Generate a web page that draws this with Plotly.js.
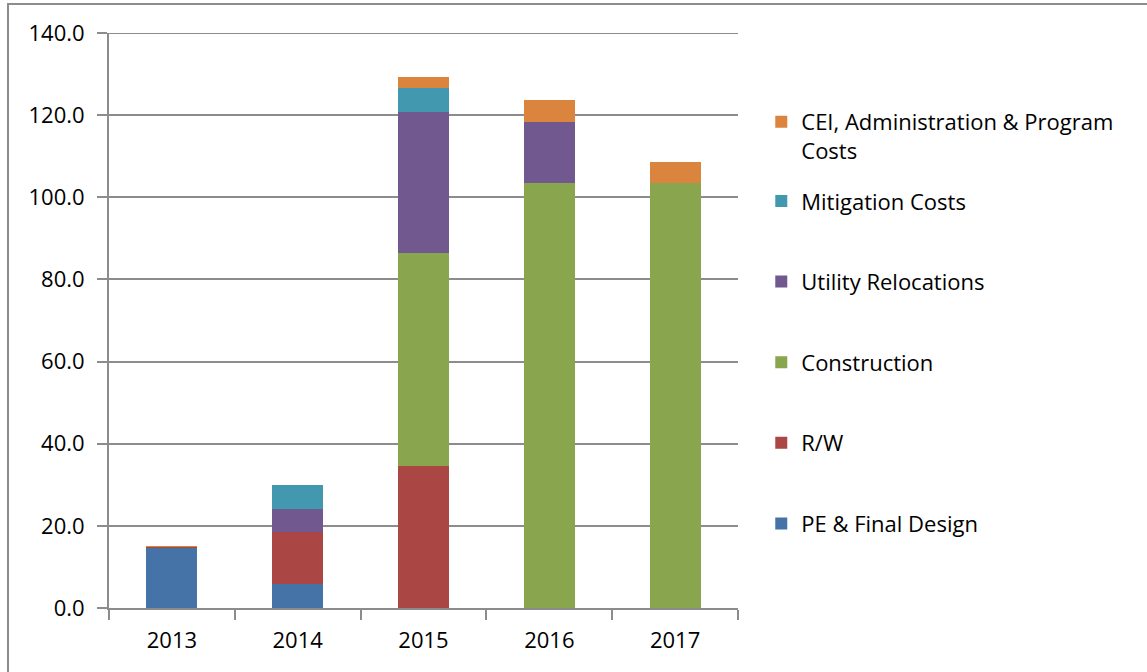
<!DOCTYPE html>
<html>
<head>
<meta charset="utf-8">
<script src="https://cdn.plot.ly/plotly-3.0.1.min.js"></script>
<style>
  html, body { margin: 0; padding: 0; background: #ffffff; overflow: hidden; }
  #frame {
    position: absolute; left: 7px; top: 3px; width: 1160px; height: 690px;
    border: 2px solid #8c8c8c; box-sizing: border-box;
  }
  #chart { position: absolute; left: 0; top: 0; width: 1147px; height: 672px; }
</style>
</head>
<body>
<div id="frame"></div>
<div id="chart"></div>
<script>
// Stacked annual costs per funding category.
const years = ['2013', '2014', '2015', '2016', '2017'];

const peFinalDesign = [14.5, 5.9, 0, 0, 0];
const rightOfWay = [0.4, 12.5, 34.6, 0, 0];
const construction = [0, 0, 51.8, 103.4, 103.4];
const utilityRelocations = [0, 5.7, 34.4, 14.9, 0];
const mitigationCosts = [0, 5.9, 5.9, 0, 0];
const ceiAdminProgram = [0.2, 0, 2.6, 5.4, 5.2];

const yTicks = [0, 20, 40, 60, 80, 100, 120, 140];

const COLORS = {
  pe: '#4572A7',
  rw: '#AA4643',
  construction: '#89A54E',
  utility: '#71588F',
  mitigation: '#4198AF',
  cei: '#DB843D',
  grid: '#8c8c8c',
  text: '#000000',
};

const FONT_FAMILY = 'Open Sans, Liberation Sans, sans-serif';

// rank: smaller sits higher in the legend (Excel lists the top of the stack first)
function barTrace(name, values, color, rank, legend) {
  return {
    type: 'bar',
    name,
    x: years,
    y: values,
    legendgroup: name,
    legendrank: rank,
    legend: legend || 'legend',
    marker: { color, line: { width: 0 } },
    hoverinfo: 'x+y+name',
  };
}

const traces = [
  barTrace('PE & Final Design', peFinalDesign, COLORS.pe, 5),
  barTrace('R/W', rightOfWay, COLORS.rw, 4),
  barTrace('Construction', construction, COLORS.construction, 3),
  barTrace('Utility Relocations', utilityRelocations, COLORS.utility, 2),
  barTrace('Mitigation Costs', mitigationCosts, COLORS.mitigation, 1),
  barTrace('CEI, Administration & Program<br>Costs', ceiAdminProgram, COLORS.cei, 0, 'legend2'),
];

const axisFont = { family: FONT_FAMILY, size: 22, color: COLORS.text };
const legendFont = { family: FONT_FAMILY, size: 22, color: COLORS.text };

const legendBase = {
  x: 1.037,
  xanchor: 'left',
  yanchor: 'top',
  traceorder: 'grouped',
  tracegroupgap: 49,
  font: legendFont,
  itemwidth: 30,
  bgcolor: 'rgba(0,0,0,0)',
};

const layout = {
  width: 1147,
  height: 672,
  paper_bgcolor: 'rgba(0,0,0,0)',
  plot_bgcolor: 'rgba(0,0,0,0)',
  margin: { l: 109, r: 409, t: 33, b: 64 },
  barmode: 'stack',
  bargap: 0.595,
  font: axisFont,
  xaxis: {
    type: 'category',
    showline: true,
    linecolor: COLORS.grid,
    linewidth: 2,
    ticks: 'outside',
    tickson: 'boundaries',
    ticklen: 10,
    tickwidth: 2,
    tickcolor: COLORS.grid,
    tickfont: axisFont,
    ticklabelstandoff: 12,
    showgrid: false,
  },
  yaxis: {
    range: [0, 140],
    tickvals: yTicks,
    ticktext: yTicks.map((v) => v.toFixed(1)),
    showline: true,
    linecolor: COLORS.grid,
    linewidth: 2,
    ticks: 'outside',
    ticklen: 10,
    tickwidth: 2,
    tickcolor: COLORS.grid,
    showgrid: true,
    gridcolor: COLORS.grid,
    gridwidth: 2,
    zeroline: false,
    tickfont: axisFont,
    ticklabelstandoff: 8,
  },
  // gridline at the top of the range, which Plotly leaves out at the edge
  shapes: [
    {
      type: 'line',
      xref: 'paper',
      yref: 'y',
      x0: 0,
      x1: 1,
      y0: 140,
      y1: 140,
      line: { color: COLORS.grid, width: 2 },
    },
  ],
  legend: { ...legendBase, y: 0.744 },
  legend2: { ...legendBase, y: 0.882, valign: 'top' },
  showlegend: true,
};

Plotly.newPlot('chart', traces, layout, { displayModeBar: false, staticPlot: true });
</script>
</body>
</html>
